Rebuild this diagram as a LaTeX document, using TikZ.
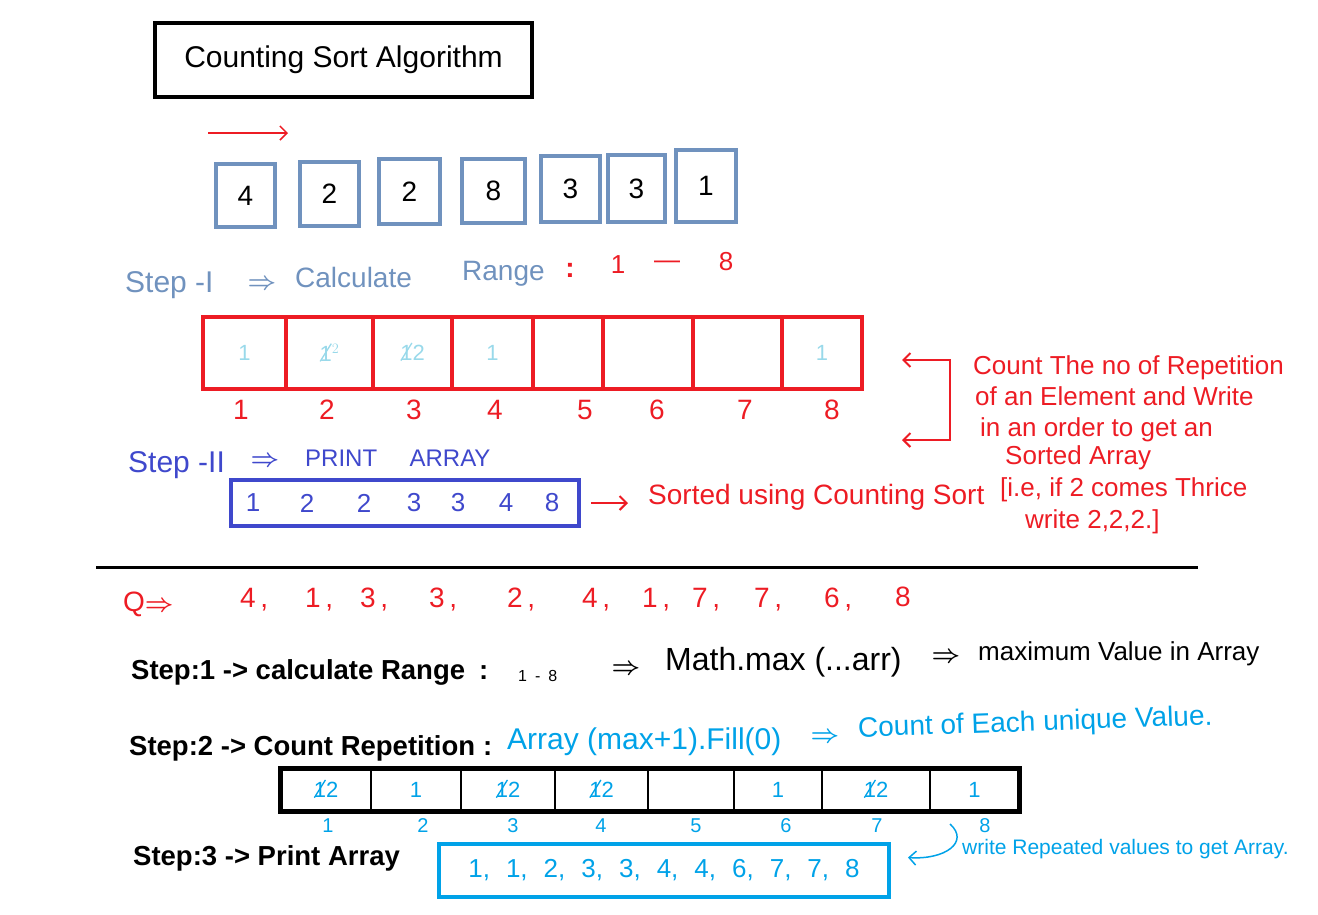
\documentclass[tikz,border=0pt]{standalone}
\usepackage{fontspec}
\setmainfont{Liberation Sans}
\usepackage{amsmath}
\usepackage{tikz}
\usetikzlibrary{positioning,arrows.meta}
\definecolor{Slate}{HTML}{7092BE}
\definecolor{Paint}{HTML}{ED1C24}
\definecolor{Pale}{HTML}{99D9EA}
\definecolor{Indigo}{HTML}{3F48CC}
\definecolor{Sky}{HTML}{00A2E8}
\newcommand{\fsz}[1]{\fontsize{#1}{#1}\selectfont}
\newcommand{\xone}{\ooalign{1\cr\hidewidth\raisebox{0.36em}{\rotatebox[origin=c]{58}{\rule{0.95em}{0.06em}}}\hidewidth}}
\newcommand{\imp}{$\boldsymbol{\Rightarrow}$}

\begin{document}
\begin{tikzpicture}[
      x=1pt, y=-1pt,
      node distance=22pt,
      hand/.style={inner sep=0pt, font=\fsz{26}},
      impl/.style={inner sep=0pt, font=\fsz{34}},
      steplbl/.style={inner sep=0pt, anchor=west, font=\fsz{27.5}\bfseries},
      valbox/.style={draw=Slate, line width=4pt, font=\fsz{28}},
      rcell/.style={draw=Paint, line width=4pt, minimum height=72pt, text=Pale, font=\fsz{22}},
      bcell/.style={draw, line width=1.2pt, minimum height=42pt, text=Sky, font=\fsz{22}},
      arr/.style={-{Straight Barb[length=7pt, width=14pt]}, line width=2pt}
    ]
    \useasboundingbox (0,0) rectangle (1318,914);

    % title and input array
    \node[draw, line width=4pt, minimum width=377pt, minimum height=74pt, font=\fsz{30}] (title) at (343.5,60) {Counting Sort Algorithm};
    \coordinate (a0) at (208,133);
    \coordinate (a1) at (288,133);
    \draw[arr, Paint, line width=1.5pt] (a0) -- (a1);
    \foreach \x/\y/\w/\h/\d [count=\i] in {245.5/195.5/59/63/4, 329.5/194/59/64/2, 409.5/191.5/61/65/2, 493.5/191/63/64/8, 570.5/189/59/66/3, 636.5/188.5/57/67/3, 706/186/60/72/1}
      \node[valbox, minimum width=\w, minimum height=\h] (v\i) at (\x,\y) {\d};

    % step I
    \node[hand, text=Slate, font=\fsz{30}, anchor=west] (s1) at (125,285) {Step -I};
    \node[impl, text=Slate] (s1imp) at (262,285) {\imp};
    \node[hand, text=Slate, font=\fsz{28}, anchor=west] (calc) at (295,277) {Calculate};
    \node[hand, text=Slate, font=\fsz{28}, anchor=west] (rng) at (462,274) {Range};
    \node[hand, text=Paint, font=\fsz{28}\bfseries] (colon1) at (570,270) {:};
    \node[hand, text=Paint] (lo) at (618,265) {1};
    \node[hand, text=Paint] (dash1) at (667,265) {---};
    \node[hand, text=Paint] (hi) at (726,262) {8};

    \foreach \a/\b/\v [count=\i] in {203/286/1, 286/373/{\xone$^{2}$}, 373/452/{\xone2}, 452/533/1, 533/603/{}, 603/693/{}, 693/782/{}, 782/862/1}
      \node[rcell, minimum width=\b-\a] (c\i) at ({(\a+\b)/2},353) {\v};
    \foreach \x [count=\i] in {241,327,414,495,585,657,745,832}
      \node[hand, text=Paint, font=\fsz{28}] (ci\i) at (\x,410) {\i};

    % note on the right
    \coordinate (bt) at (902,360);
    \coordinate (bb) at (902,440);
    \draw[Paint, line width=2pt, {Straight Barb[length=7pt, width=14pt]}-{Straight Barb[length=7pt, width=14pt]}] (bt) -- ++(48,0) -- ++(0,80) -- (bb);
    \node[hand, text=Paint, anchor=west] (n1) at (973,368) {Count The no of Repetition};
    \node[hand, text=Paint, anchor=west] (n2) at (975,396) {of an Element and Write};
    \node[hand, text=Paint, anchor=west] (n3) at (980,430) {in an order to get an};
    \node[hand, text=Paint, anchor=west] (n4) at (1005,458) {Sorted Array};
    \node[hand, text=Paint, anchor=west] (n5) at (1000,490) {[i.e, if 2 comes Thrice};
    \node[hand, text=Paint, anchor=west] (n6) at (1025,522) {write 2,2,2.]};

    % step II
    \node[hand, text=Indigo, font=\fsz{30}, anchor=west] (s2) at (128,465) {Step -II};
    \node[impl, text=Indigo] (s2imp) at (265,462) {\imp};
    \node[hand, text=Indigo, font=\fsz{24}, anchor=west] (prt) at (305,458) {PRINT};
    \node[hand, text=Indigo, font=\fsz{24}, right=32pt of prt] (arry) {ARRAY};
    \node[draw=Indigo, line width=4pt, minimum width=348, minimum height=46] (srt) at (405,503) {};
    \foreach \x/\d [count=\i] in {253/1,307/2,364/2,414/3,458/3,506/4,552/8}
      \node[hand, text=Indigo] (d\i) at (\x,503) {\d};
    \node[hand, text=Paint, font=\fsz{28}, anchor=west] (srtnote) at (648,497) {Sorted using Counting Sort};
    \draw[arr, Paint, shorten <=10pt, shorten >=20pt] (srt.east) -- (srt.east -| srtnote.west);

    \coordinate (hl) at (96,567);
    \coordinate (hr) at (1198,567);
    \draw[line width=3pt] (hl) -- (hr);

    % question
    \node[hand, text=Paint, font=\fsz{28}, anchor=west] (q) at (123,604) {Q\imp};
    \foreach \x/\d [count=\i] in {248/4,313/1,368/3,437/3,515/2,590/4,650/1,700/7,762/7,832/6}
      \node[hand, text=Paint, font=\fsz{28}] (q\i) at (\x,600) {\d\rlap{\,,}};
    \node[hand, text=Paint, font=\fsz{28}] (q11) at (903,597) {8};

    % steps 1 to 3
    \node[steplbl] (st1) at (131,672) {Step:1 -> calculate Range\hspace{14pt}:};
    \node[hand, font=\fsz{16}, anchor=west] (rg) at (518,676) {1\hspace{8pt}-\hspace{8pt}8};
    \node[impl] (imp1) at (626,670) {\imp};
    \node[hand, font=\fsz{32}, anchor=west] (mmax) at (665,662) {Math.max (...arr)};
    \node[impl] (imp2) at (946,658) {\imp};
    \node[hand, anchor=west] (maxv) at (978,654) {maximum Value in Array};

    \node[steplbl] (st2) at (129,748) {Step:2 -> Count Repetition\hspace{8pt}:};
    \node[hand, text=Sky, font=\fsz{30}, anchor=west] (fill) at (507,742) {Array (max+1).Fill(0)};
    \node[impl, text=Sky, font=\fsz{38}] (imp3) at (825,738) {\imp};
    \node[hand, text=Sky, font=\fsz{28}, anchor=west, rotate=2] (cnt) at (858,730) {Count of Each unique Value.};

    \foreach \a/\b/\v [count=\i] in {281/371/{\xone2}, 371/461/1, 461/555/{\xone2}, 555/648/{\xone2}, 648/734/{}, 734/822/1, 822/930/{\xone2}, 930/1019/1}
      \node[bcell, minimum width=\b-\a] (b\i) at ({(\a+\b)/2},790) {\v};
    \draw[line width=5pt] (b1.north west) rectangle (b8.south east);
    \foreach \x [count=\i] in {328,423,513,601,696,786,877,985}
      \node[hand, text=Sky, font=\fsz{20}] (bi\i) at (\x,826) {\i};

    \node[steplbl] (st3) at (133,858) {Step:3 -> Print Array};
    \node[draw=Sky, line width=4pt, minimum width=450, minimum height=53, text=Sky, font=\fsz{26}] (out) at (664,870.5) {\spaceskip=16pt 1, 1, 2, 3, 3, 4, 4, 6, 7, 7, 8};
    \node[hand, text=Sky, font=\fsz{21}, anchor=west] (rep) at (962,849) {write Repeated values to get Array.};
    \coordinate (rtop) at (950,824);
    \draw[arr, Sky, line width=1.5pt] (rtop) .. controls (970,842) and (945,860) .. ([xshift=17pt, yshift=13pt]out.east);
  \end{tikzpicture}
\end{document}
